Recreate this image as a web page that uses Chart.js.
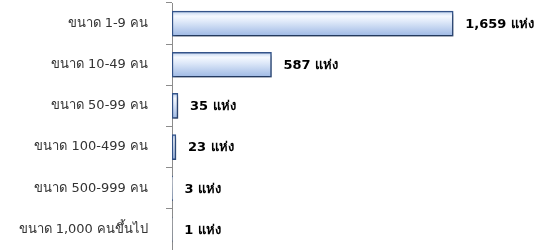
<!DOCTYPE html>
<html>
<head>
<meta charset="utf-8">
<script src="https://cdn.jsdelivr.net/npm/chart.js@4"></script>
<style>
  html, body { margin: 0; padding: 0; background: #fff; }
  #wrap { width: 536px; height: 250px; }
</style>
</head>
<body>
<div id="wrap"><canvas id="sizeChart"></canvas></div>
<script>
// ข้อมูลจำนวนสถานประกอบการตามขนาด
const categories = ["ขนาด 1-9 คน", "ขนาด 10-49 คน", "ขนาด 50-99 คน", "ขนาด 100-499 คน", "ขนาด 500-999 คน", "ขนาด 1,000 คนขึ้นไป"];
const counts = [1659, 587, 35, 23, 3, 1];
const unit = "แห่ง";

const fontFamily = "Tahoma, 'DejaVu Sans', 'Noto Sans', sans-serif";
const barSize = 25;

// ไล่สีแท่งแบบนูน (คำนวณจากตำแหน่งบนแกน y)
function barFill(context) {
  const chart = context.chart;
  const yScale = chart.scales.y;
  if (!yScale || context.dataIndex === undefined) return "#d3e1f4";
  const cy = yScale.getPixelForValue(context.dataIndex);
  if (!Number.isFinite(cy)) return "#d3e1f4";
  const top = cy - barSize / 2;
  const g = chart.ctx.createLinearGradient(0, top, 0, top + barSize);
  g.addColorStop(0, "#bdd1ee");
  g.addColorStop(0.2, "#f5f9ff");
  g.addColorStop(0.42, "#dfe9f9");
  g.addColorStop(1, "#9db8e4");
  return g;
}

// เงาใต้แท่ง
const barShadow = {
  id: "barShadow",
  beforeDatasetsDraw(chart) {
    const ctx = chart.ctx;
    ctx.save();
    ctx.shadowColor = "rgba(0,0,0,0.35)";
    ctx.shadowBlur = 3;
    ctx.shadowOffsetX = 1;
    ctx.shadowOffsetY = 3;
  },
  afterDatasetsDraw(chart) {
    chart.ctx.restore();
  }
};

// ป้ายค่าท้ายแท่ง
const valueLabels = {
  id: "valueLabels",
  afterDatasetsDraw(chart) {
    const ctx = chart.ctx;
    const meta = chart.getDatasetMeta(0);
    ctx.save();
    ctx.font = "bold 13px " + fontFamily;
    ctx.fillStyle = "#000";
    ctx.textBaseline = "middle";
    meta.data.forEach((bar, i) => {
      ctx.fillText(counts[i].toLocaleString("en-US") + " " + unit, bar.x + 12, bar.y + 1);
    });
    ctx.restore();
  }
};

new Chart(document.getElementById("sizeChart"), {
  type: "bar",
  data: {
    labels: categories,
    datasets: [{
      data: counts,
      backgroundColor: barFill,
      borderColor: "#34548a",
      borderWidth: 1.5,
      borderSkipped: false,
      barThickness: barSize
    }]
  },
  options: {
    indexAxis: "y",
    responsive: true,
    maintainAspectRatio: false,
    animation: false,
    layout: { padding: { top: 3, right: 25, bottom: -3, left: 0 } },
    plugins: {
      legend: { display: false },
      tooltip: { enabled: false }
    },
    scales: {
      x: { display: false, min: 0, max: 2000 },
      y: {
        afterFit(axis) {
          axis.width = 172;
          axis.paddingTop = 0;
          axis.paddingBottom = 0;
        },
        border: { display: true, color: "#8c8c8c", width: 1 },
        grid: { drawOnChartArea: false, tickLength: 6, color: "#8c8c8c" },
        ticks: {
          padding: 18,
          color: "#333",
          font: { family: fontFamily, size: 13 }
        }
      }
    }
  },
  plugins: [barShadow, valueLabels]
});
</script>
</body>
</html>
